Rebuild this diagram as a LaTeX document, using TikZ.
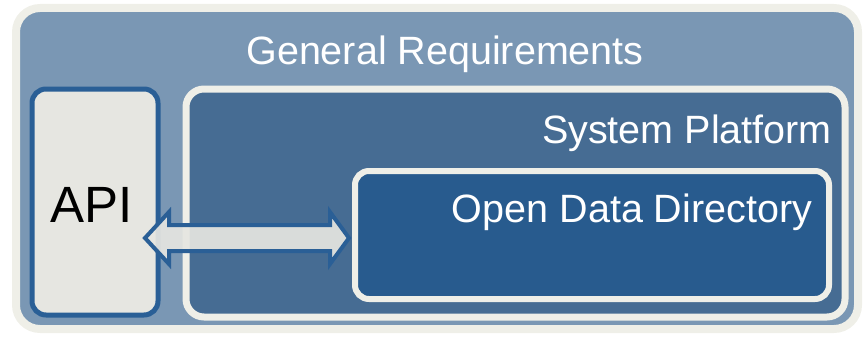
\documentclass[tikz,border=0pt]{standalone}
\usepackage{fontspec}
\setmainfont{Liberation Sans}
\usepackage{tikz}
\usetikzlibrary{shadows}

\definecolor{reqfill}{HTML}{7A97B4}
\definecolor{cream}{HTML}{EFEFE8}
\definecolor{apifill}{HTML}{E6E6E1}
\definecolor{apiblue}{HTML}{2A5F96}
\definecolor{platfill}{HTML}{466C93}
\definecolor{dirfill}{HTML}{285B8E}

\begin{document}
\begin{tikzpicture}[
  x=1pt,y=-1pt,
  boxshadow/.style={drop shadow={opacity=0.3,shadow xshift=1.5pt,shadow yshift=-2pt}},
  reqbox/.style={draw=cream,line width=8pt,fill=reqfill,rounded corners=24pt,boxshadow,inner sep=0pt},
  apibox/.style={draw=apiblue,line width=5pt,fill=apifill,rounded corners=14pt,inner sep=0pt},
  platbox/.style={draw=cream,line width=7pt,fill=platfill,rounded corners=18pt,boxshadow,inner sep=0pt},
  dirbox/.style={draw=cream,line width=6pt,fill=dirfill,rounded corners=14pt,boxshadow,inner sep=0pt},
  boxtitle/.style={text=white,inner sep=0pt,font=\fontsize{39.5}{46}\selectfont},
  apiarrow/.style={draw=apiblue,line width=4pt,fill=apifill,fill opacity=0.92,line join=miter}
]
  \useasboundingbox (0,0) rectangle (867,337);

  \node[reqbox,minimum width=842pt,minimum height=321pt] (general) at (437,168.5) {};
  \node[apibox,minimum width=126pt,minimum height=226pt] (api) at (95,202) {};
  \node[platbox,minimum width=659pt,minimum height=228pt] (platform) at (515.5,203) {};
  \node[dirbox,minimum width=474pt,minimum height=128pt] (directory) at (592,235) {};

  \coordinate (tipL) at (145,238);
  \coordinate (tipR) at (349,238);
  \draw[apiarrow] (tipL) -- ++(24,-26) -- ++(0,13) -- ++(161,0) -- ++(0,-13)
    -- (tipR) -- ++(-19,26) -- ++(0,-13) -- ++(-161,0) -- ++(0,13) -- cycle;

  \node[boxtitle,anchor=base] (generaltext) at (445,65) {General Requirements};
  \node[boxtitle,anchor=base east] (platformtext) at (832,143) {System Platform};
  \node[boxtitle,anchor=base] (directorytext) at (632,222) {Open Data Directory};
  \node[inner sep=0pt,anchor=base,font=\fontsize{51}{60}\selectfont] (apitext) at (92,222) {API};
\end{tikzpicture}
\end{document}
